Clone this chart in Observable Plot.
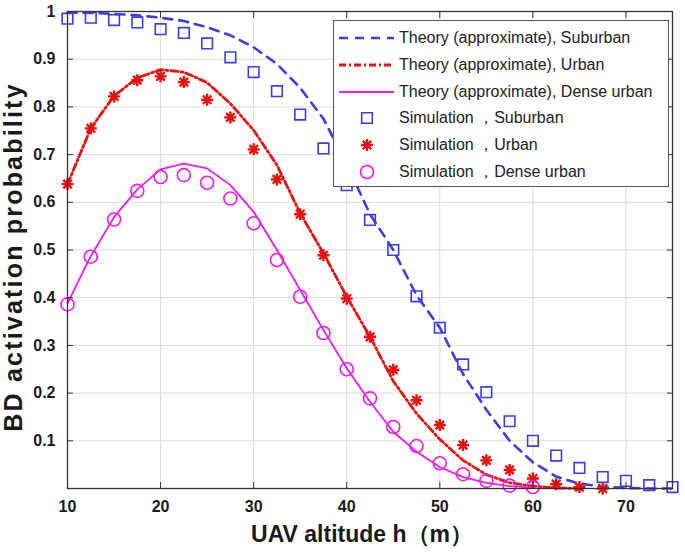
<!DOCTYPE html>
<html>
<head>
<meta charset="utf-8">
<script src="https://cdn.jsdelivr.net/npm/d3@7"></script>
<script src="https://cdn.jsdelivr.net/npm/@observablehq/plot@0.6"></script>
<style>
  body { margin: 0; background: #fff; font-family: "Liberation Sans", Arial, sans-serif; }
  #chart { position: relative; width: 685px; height: 554px; }
  #legend { position: absolute; left: 333px; top: 20px; width: 336px; height: 167px;
            border: 1.5px solid #555; background: #fff; box-sizing: border-box; }
  .row { position: absolute; left: 0; height: 26px; display: flex; align-items: center;
         font-size: 16px; color: #222; white-space: nowrap; }
  .row svg { flex: none; }
  .ylab { letter-spacing: 2.2px; }
</style>
</head>
<body>
<div id="chart"><div id="legend"></div></div>
<script>
// altitudes (m)
const simX = [10, 12.5, 15, 17.5, 20, 22.5, 25, 27.5, 30, 32.5, 35, 37.5, 40, 42.5, 45, 47.5, 50,
  52.5, 55, 57.5, 60, 62.5, 65, 67.5, 70, 72.5, 75]

// simulation points
const simSuburban = [0.985, 0.987, 0.982, 0.977, 0.963, 0.955, 0.933, 0.904, 0.873, 0.833, 0.784,
  0.713, 0.636, 0.563, 0.500, 0.403, 0.337, 0.260, 0.202, 0.141, 0.100, 0.069, 0.043, 0.024,
  0.016, 0.007, 0.003]
const simUrban = [0.638, 0.755, 0.822, 0.856, 0.864, 0.852, 0.815, 0.778, 0.711, 0.648, 0.575,
  0.489, 0.398, 0.318, 0.249, 0.185, 0.133, 0.091, 0.059, 0.039, 0.021, 0.009, 0.003, 0.000]
const simDense = [0.386, 0.486, 0.564, 0.624, 0.653, 0.657, 0.641, 0.608, 0.556, 0.479, 0.402,
  0.326, 0.250, 0.189, 0.129, 0.089, 0.053, 0.030, 0.016, 0.006, 0.003]

// theory (approximate) curves
const thSuburban = [0.998, 0.997, 0.995, 0.992, 0.987, 0.980, 0.967, 0.950, 0.925, 0.890, 0.840,
  0.775, 0.680, 0.575, 0.500, 0.405, 0.337, 0.240, 0.165, 0.100, 0.055, 0.025, 0.010, 0.004,
  0.001, 0.000, 0.000]
const thUrban = [0.638, 0.755, 0.823, 0.861, 0.878, 0.873, 0.851, 0.807, 0.751, 0.678, 0.577,
  0.493, 0.402, 0.318, 0.225, 0.157, 0.103, 0.059, 0.029, 0.012, 0.005, 0.001, 0.000]
const thDense = [0.388, 0.487, 0.569, 0.627, 0.669, 0.681, 0.671, 0.636, 0.580, 0.500, 0.416,
  0.332, 0.252, 0.182, 0.119, 0.077, 0.045, 0.024, 0.012, 0.005, 0.002]

const xTicks = [10, 20, 30, 40, 50, 60, 70]
const yTicks = [0.1, 0.2, 0.3, 0.4, 0.5, 0.6, 0.7, 0.8, 0.9, 1]

const blue = "#3d3de6", red = "#ea1010", magenta = "#ee1cee"
const blueDash = "9,7", redDash = "7,3,2,3"

const toRows = vals => vals.map((v, i) => ({x: simX[i], y: v}))

// asterisk like matlab '*'
const star = {
  draw(ctx, size) {
    const r = Math.sqrt(size / Math.PI), d = r * Math.SQRT1_2
    ctx.moveTo(-r, 0); ctx.lineTo(r, 0)
    ctx.moveTo(0, -r); ctx.lineTo(0, r)
    ctx.moveTo(-d, -d); ctx.lineTo(d, d)
    ctx.moveTo(-d, d); ctx.lineTo(d, -d)
  }
}

const series = [
  {label: "Theory (approximate), Suburban", type: "line", stroke: blue, width: 2.6, dash: blueDash},
  {label: "Theory (approximate), Urban", type: "line", stroke: red, width: 2.8, dash: redDash},
  {label: "Theory (approximate), Dense urban", type: "line", stroke: magenta, width: 1.8, dash: null},
  {label: "Simulation \uFF0CSuburban", type: "square", stroke: blue},
  {label: "Simulation \uFF0CUrban", type: "star", stroke: red},
  {label: "Simulation \uFF0CDense urban", type: "circle", stroke: magenta}
]

const chart = Plot.plot({
  width: 685,
  height: 554,
  marginLeft: 67,
  marginRight: 13,
  marginTop: 11,
  marginBottom: 66,
  x: {domain: [10, 75]},
  y: {domain: [0, 1]},
  style: {fontFamily: "'Liberation Sans', Arial, sans-serif", color: "#1a1a1a", background: "#fff"},
  marks: [
    Plot.gridX(xTicks, {stroke: "#dcdcdc", strokeOpacity: 1}),
    Plot.gridY(yTicks, {stroke: "#dcdcdc", strokeOpacity: 1}),

    Plot.line(toRows(thSuburban), {x: "x", y: "y", stroke: blue, strokeWidth: 2.6, strokeDasharray: blueDash}),
    Plot.line(toRows(thUrban), {x: "x", y: "y", stroke: red, strokeWidth: 2.8, strokeDasharray: redDash}),
    Plot.line(toRows(thDense), {x: "x", y: "y", stroke: magenta, strokeWidth: 1.8}),

    Plot.dot(toRows(simSuburban), {x: "x", y: "y", symbol: "square", r: 6, stroke: blue, strokeWidth: 1.6, fill: "none"}),
    Plot.dot(toRows(simUrban), {x: "x", y: "y", symbol: star, r: 6, stroke: red, strokeWidth: 2.4, fill: "none"}),
    Plot.dot(toRows(simDense), {x: "x", y: "y", symbol: "circle", r: 6.5, stroke: magenta, strokeWidth: 1.6, fill: "none"}),

    Plot.frame({stroke: "#333", strokeWidth: 1.3}),

    // tick labels
    Plot.axisX({ticks: xTicks, tickSize: 0, tickPadding: 12, label: null, fontSize: 16, fontWeight: "bold"}),
    Plot.axisY({ticks: yTicks, tickSize: 0, tickPadding: 12, label: null, fontSize: 16, fontWeight: "bold",
      tickFormat: d => d === 1 ? "1" : d.toFixed(1)}),
    // inward ticks on all four sides
    Plot.axisX({ticks: xTicks, anchor: "bottom", tickSize: 6, dy: -6, tickFormat: () => "", label: null, stroke: "#333"}),
    Plot.axisX({ticks: xTicks, anchor: "top", tickSize: 6, dy: 6, tickFormat: () => "", label: null, stroke: "#333"}),
    Plot.axisY({ticks: yTicks, anchor: "left", tickSize: 6, dx: 6, tickFormat: () => "", label: null, stroke: "#333"}),
    Plot.axisY({ticks: yTicks, anchor: "right", tickSize: 6, dx: -6, tickFormat: () => "", label: null, stroke: "#333"}),

    // axis titles
    Plot.text(["UAV altitude h\uFF08m\uFF09"], {frameAnchor: "bottom", lineAnchor: "middle", textAnchor: "middle",
      dy: 46, dx: -8, fontSize: 23, fontWeight: "bold"}),
    Plot.text(["BD activation probability"], {frameAnchor: "left", textAnchor: "middle", lineAnchor: "middle",
      dx: -54, dy: 7, rotate: -90, fontSize: 25, fontWeight: "bold", className: "ylab"})
  ]
})

d3.select("#chart").insert(() => chart, "#legend")

// legend
const legend = d3.select("#legend")
series.forEach((s, i) => {
  const row = legend.append("div").attr("class", "row").style("top", (4 + i * 26.8) + "px")
  const svg = row.append("svg").attr("width", 64).attr("height", 26)
  if (s.type === "line") {
    svg.append("line").attr("x1", 5).attr("x2", 60).attr("y1", 13).attr("y2", 13)
      .attr("stroke", s.stroke).attr("stroke-width", s.width).attr("stroke-dasharray", s.dash)
  } else {
    const sym = s.type === "square" ? d3.symbolSquare : s.type === "circle" ? d3.symbolCircle : star
    const r = s.type === "circle" ? 6.5 : 6
    svg.append("path").attr("transform", "translate(33,13)")
      .attr("d", d3.symbol(sym, Math.PI * r * r)())
      .attr("fill", "none").attr("stroke", s.stroke).attr("stroke-width", s.type === "star" ? 2.4 : 1.6)
  }
  row.append("span").text(s.label).style("margin-left", "1px")
})
</script>
</body>
</html>
